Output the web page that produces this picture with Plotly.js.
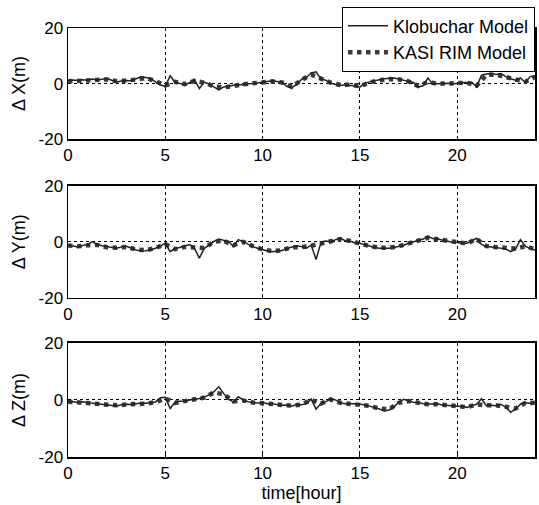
<!DOCTYPE html>
<html>
<head>
<meta charset="utf-8">
<script src="https://cdn.plot.ly/plotly-3.0.1.min.js"></script>
<style>html,body{margin:0;padding:0;background:#fff;}#chart{width:539px;height:505px;}</style>
</head>
<body>
<div id="chart"></div>
<script>
// time [hour], 0.25 h steps
const timeHours = [0,0.25,0.5,0.75,1,1.25,1.5,1.75,2,2.25,2.5,2.75,3,3.25,3.5,3.75,4,4.25,4.5,4.75,
  5,5.25,5.5,5.75,6,6.25,6.5,6.75,7,7.25,7.5,7.75,8,8.25,8.5,8.75,9,9.25,9.5,9.75,
  10,10.25,10.5,10.75,11,11.25,11.5,11.75,12,12.25,12.5,12.75,13,13.25,13.5,13.75,14,14.25,14.5,14.75,
  15,15.25,15.5,15.75,16,16.25,16.5,16.75,17,17.25,17.5,17.75,18,18.25,18.5,18.75,19,19.25,19.5,19.75,
  20,20.25,20.5,20.75,21,21.25,21.5,21.75,22,22.25,22.5,22.75,23,23.25,23.5,23.75,24];

const klobDX = [1.0,1.3,1.1,1.4,1.2,1.6,1.3,1.5,1.8,1.2,0.6,0.9,1.1,1.0,1.6,2.4,2.2,1.8,0.6,-0.5,
  -1.0,2.8,0.5,0.1,-0.4,0.3,1.4,-1.8,0.5,-0.2,-1.2,-2.3,-1.2,-0.9,-0.6,-0.3,-0.5,-0.1,0.0,0.2,
  0.5,0.6,1.0,0.7,0.3,-1.0,-1.5,-0.3,1.5,2.2,3.8,4.2,1.6,1.2,0.1,-0.3,-0.7,-0.4,-0.6,-0.9,
  -1.3,0.1,0.6,1.1,1.4,1.7,1.8,2.0,1.6,1.2,0.9,0.4,-1.2,-0.8,2.0,-0.2,-0.1,0.0,0.1,-0.2,
  0.1,0.3,0.4,0.5,-1.2,3.0,3.4,3.6,3.3,3.6,2.5,1.7,1.2,2.0,0.4,2.5,2.8];

const klobDY = [-1.1,-1.5,-1.8,-1.3,-1.0,0.1,-1.0,-1.4,-1.7,-2.0,-2.3,-1.8,-1.6,-2.2,-2.9,-3.3,-3.2,-2.8,-2.3,-1.5,
  -0.5,-3.5,-2.4,-2.0,-1.6,-1.0,-2.3,-5.8,-2.4,-1.2,0.2,1.0,0.6,0.1,-1.6,0.8,0.1,-0.8,-1.7,-2.3,
  -2.9,-3.3,-3.5,-3.3,-3.1,-2.4,-1.8,-1.4,-1.7,-2.3,-1.2,-6.3,-0.2,0.3,0.0,0.8,1.3,0.4,0.2,-0.3,
  -0.5,-1.0,-1.7,-2.0,-2.3,-2.4,-2.3,-2.0,-1.7,-1.2,-0.5,0.0,0.4,1.0,1.9,1.2,1.0,0.6,0.4,-0.1,
  -0.2,-0.5,-0.5,0.4,1.3,-0.9,-1.6,-1.8,-2.0,-2.3,-2.5,-3.5,-2.6,0.8,-1.5,-2.4,-2.9];

const klobDZ = [-0.5,-0.7,-0.8,-0.6,-1.0,-1.2,-1.3,-1.5,-1.9,-2.0,-2.1,-1.7,-1.5,-1.6,-1.4,-1.1,-1.2,-0.9,-0.7,0.8,
  0.9,-3.0,-0.8,-0.5,-0.4,0.0,0.2,0.5,1.0,1.8,2.9,4.6,2.3,0.2,-0.7,1.1,0.0,-0.6,-0.9,-1.1,
  -0.9,-1.3,-1.3,-1.6,-1.9,-1.8,-2.2,-1.6,-1.7,-1.3,0.3,-3.2,-1.2,-0.6,0.3,0.0,-1.0,-1.3,-1.2,-1.3,
  -1.4,-1.8,-2.0,-2.6,-3.2,-3.9,-3.5,-2.4,-0.8,0.2,-0.3,-0.8,-0.9,-1.3,-1.4,-1.3,-1.4,-1.8,-2.0,-2.0,
  -2.2,-2.3,-2.6,-2.0,-1.5,0.4,-2.0,-1.9,-2.0,-1.5,-2.6,-4.3,-3.2,-1.5,-1.0,-1.2,-0.9];

// KASI RIM model, read at 0.5 h steps
const timeHalf = [0,0.5,1,1.5,2,2.5,3,3.5,4,4.5,5,5.5,6,6.5,7,7.5,8,8.5,9,9.5,10,10.5,11,11.5,
  12,12.5,13,13.5,14,14.5,15,15.5,16,16.5,17,17.5,18,18.5,19,19.5,20,20.5,21,21.5,22,22.5,23,23.5,24];
const kasiDX = [0.8,1.0,1.0,1.2,1.5,0.8,1.0,1.4,2.0,0.9,-0.7,0.6,-0.2,1.0,0.3,-1.0,-1.4,-0.7,-0.3,0.1,
  0.4,0.8,0.4,-1.2,1.3,3.2,1.8,0.3,-0.5,-0.4,-1.0,0.4,1.2,1.6,1.5,0.8,-0.9,0.6,-0.1,0.1,
  0.0,0.3,-0.8,3.1,3.2,2.4,1.3,0.6,2.4];
const kasiDY = [-1.3,-1.6,-1.2,-1.1,-1.9,-2.1,-1.8,-2.7,-3.0,-2.2,-0.8,-2.6,-1.8,-2.1,-2.2,0.0,0.4,-1.2,0.0,-1.5,
  -2.7,-3.3,-3.0,-1.9,-1.9,-1.4,-0.5,0.1,1.0,0.3,-0.7,-1.5,-2.1,-2.1,-1.6,-0.6,0.3,1.5,0.9,0.3,
  -0.3,-0.6,1.0,-1.5,-1.9,-2.3,-2.4,-1.6,-2.6];
const kasiDZ = [-0.6,-0.9,-1.1,-1.4,-1.8,-1.9,-1.6,-1.5,-1.3,-0.8,0.5,-1.0,-0.5,0.1,0.8,2.6,2.0,-0.5,-0.2,-0.9,
  -1.0,-1.4,-1.8,-2.0,-1.6,0.0,-1.3,0.2,-1.0,-1.3,-1.5,-2.1,-3.0,-3.3,-1.0,-0.4,-1.0,-1.5,-1.5,-2.0,
  -2.2,-2.5,-1.6,-1.9,-1.9,-2.4,-3.0,-1.1,-1.0];

const yTicks = [-20, 0, 20];
const xTicks = [0, 5, 10, 15, 20];
const seriesNames = ['Klobuchar Model', 'KASI RIM Model'];
const yTitles = ['Δ X(m)', 'Δ Y(m)', 'Δ Z(m)'];
const xTitle = 'time[hour]';

const family = 'Liberation Sans, Arial, sans-serif';
const tickFont = {family: family, size: 17, color: '#000'};
const titleFont = {family: family, size: 18, color: '#000'};

function kasiTrace(y, ax, show) {
  return {x: timeHalf, y: y, xaxis: 'x' + ax, yaxis: 'y' + ax, type: 'scatter', mode: 'lines',
    name: seriesNames[1], showlegend: show, legendrank: 2,
    line: {color: '#3a3a3a', width: 4.5, dash: 'dot'}};
}
function klobTrace(y, ax, show) {
  return {x: timeHours, y: y, xaxis: 'x' + ax, yaxis: 'y' + ax, type: 'scatter', mode: 'lines',
    name: seriesNames[0], showlegend: show, legendrank: 1,
    line: {color: '#222', width: 1.5}};
}

const data = [
  kasiTrace(kasiDX, '', true), klobTrace(klobDX, '', true),
  kasiTrace(kasiDY, '2', false), klobTrace(klobDY, '2', false),
  kasiTrace(kasiDZ, '3', false), klobTrace(klobDZ, '3', false)
];
data[0].xaxis = 'x'; data[0].yaxis = 'y';
data[1].xaxis = 'x'; data[1].yaxis = 'y';

function xax(anchor, withTitle) {
  const a = {range: [0, 24], tickvals: xTicks, ticktext: xTicks.map(String), showgrid: true,
    gridcolor: '#000', griddash: 'dot', gridwidth: 1, zeroline: false,
    showline: true, linecolor: '#000', linewidth: 1.5, mirror: true, ticks: 'inside', ticklen: 3,
    tickcolor: '#000', tickfont: tickFont, anchor: anchor};
  if (withTitle) a.title = {text: xTitle, font: titleFont, standoff: 4};
  return a;
}
function yax(domain, anchor, title) {
  return {range: [-20, 20], domain: domain, tickvals: yTicks, ticktext: yTicks.map(String), showgrid: true,
    gridcolor: '#000', griddash: 'dot', gridwidth: 1, zeroline: false,
    showline: true, linecolor: '#000', linewidth: 1.5, mirror: true, ticks: 'inside', ticklen: 3,
    tickcolor: '#000', tickfont: tickFont, anchor: anchor,
    title: {text: title, font: titleFont, standoff: 8}};
}

const layout = {
  width: 539, height: 505,
  margin: {l: 68, r: 4, t: 28, b: 48},
  paper_bgcolor: '#fff', plot_bgcolor: '#fff',
  font: tickFont,
  showlegend: true,
  legend: {x: 1, xanchor: 'right', y: 1.05, yanchor: 'top', bgcolor: '#fff', bordercolor: '#000',
    borderwidth: 1, font: {family: family, size: 18, color: '#000'}, tracegroupgap: 0, itemwidth: 40},
  xaxis: xax('y', false),
  yaxis: yax([0.741, 1], 'x', yTitles[0]),
  xaxis2: xax('y2', false),
  yaxis2: yax([0.371, 0.632], 'x2', yTitles[1]),
  xaxis3: xax('y3', true),
  yaxis3: yax([0, 0.266], 'x3', yTitles[2])
};

Plotly.newPlot('chart', data, layout, {staticPlot: true, displayModeBar: false});
</script>
</body>
</html>
